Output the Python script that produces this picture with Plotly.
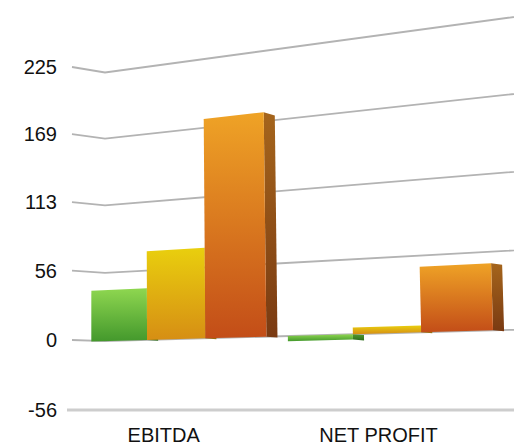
import plotly.graph_objects as go

# ---- data -------------------------------------------------------------
categories = ["EBITDA", "NET PROFIT"]
series_green = [42, -4]
series_yellow = [72, 5]
series_orange = [176, 48]
tick_values = [-56.25, 0, 56.25, 112.5, 168.75, 225]
tick_labels = ["-56", "0", "56", "113", "169", "225"]

# ---- scene geometry (chart units) -------------------------------------
PERSP_X = 0.02227      # wall comes towards the viewer to the right
PERSP_Y = 9.1e-5       # wall leans away towards the top
EYE_LEVEL = -56.25     # value lying on the horizon
WALL_SCALE = 0.984     # vertical scale of the back-wall corner vs. the axis edge
SIDE_FRONT = -0.596    # front edge of the side wall
BAR_W = 1.0
GROUP_PITCH = 3.34
FIRST_BAR = -0.25
LABEL_SCALE = 1.019    # category labels sit on the front edge of the floor
LABEL_SHIFT = 0.244
DEPTH_DX = 0.2         # bar depth, sideways
DEPTH_F = 0.011        # bar depth, pull towards the horizon
X_RANGE = [-0.686, 7.383]
Y_RANGE = [-61.85, 271.54]

GREENS = ("#43982c", "#8fd750", "#2f6e1c", "#4f9a30")
YELLOWS = ("#d68e14", "#e9cf0e", "#9a6a10", "#b88a14")
ORANGES = ("#c34d18", "#efa326", "#7a3a12", "#a5651c")


def w(u, v):
    return 1 - PERSP_X * u + PERSP_Y * (v - EYE_LEVEL)


def proj_x(u, v=0.0):
    return u / w(u, v)


def proj_y(u, v):
    return EYE_LEVEL + WALL_SCALE * (v - EYE_LEVEL) / w(u, v)


def edge_y(v, scale=1.0):
    d = v - EYE_LEVEL
    return EYE_LEVEL + scale * d / (1 + PERSP_Y * d)


def back_y(y):
    return EYE_LEVEL + (y - EYE_LEVEL) * (1 - DEPTH_F)


fig = go.Figure()

# ---- gridlines: side wall + back wall ---------------------------------
for t in tick_values:
    if t == EYE_LEVEL:
        fig.add_trace(go.Scatter(
            x=[X_RANGE[0], X_RANGE[1]], y=[t, t], mode="lines",
            line=dict(color="#cdcdcd", width=3), hoverinfo="skip", showlegend=False))
        continue
    u_end = 7.0
    xs = [SIDE_FRONT, proj_x(0, t), proj_x(u_end, t)]
    ys = [edge_y(t), proj_y(0, t), proj_y(u_end, t)]
    fig.add_trace(go.Scatter(
        x=xs, y=ys, mode="lines",
        line=dict(color="#b3b3b3", width=1.8), hoverinfo="skip", showlegend=False))


# ---- bars ---------------------------------------------------------------
def add_bar(u0, value, colors):
    bottom, top, side_bottom, side_top = colors
    u1 = u0 + BAR_W
    lo, hi = min(0, value), max(0, value)
    corners = [(u0, lo), (u1, lo), (u1, hi), (u0, hi), (u0, lo)]
    fx = [proj_x(u, v) for u, v in corners]
    fy = [proj_y(u, v) for u, v in corners]
    # side face
    xr_hi, xr_lo = proj_x(u1, hi), proj_x(u1, lo)
    y_hi, y_lo = proj_y(u1, hi), proj_y(u1, lo)
    sx = [xr_hi, xr_hi + DEPTH_DX, xr_lo + DEPTH_DX, xr_lo, xr_hi]
    sy = [y_hi, back_y(y_hi), back_y(y_lo), y_lo, y_hi]
    fig.add_trace(go.Scatter(
        x=sx, y=sy, mode="lines", fill="toself", line=dict(width=0),
        fillgradient=dict(type="vertical",
                          colorscale=[[0, side_bottom], [1, side_top]]),
        hoverinfo="skip", showlegend=False))
    # front face
    fig.add_trace(go.Scatter(
        x=fx, y=fy, mode="lines", fill="toself", line=dict(width=0),
        fillgradient=dict(type="vertical", colorscale=[[0, bottom], [1, top]]),
        hoverinfo="skip", showlegend=False))


for i, _ in enumerate(categories):
    start = FIRST_BAR + i * GROUP_PITCH
    add_bar(start, series_green[i], GREENS)
    add_bar(start + BAR_W, series_yellow[i], YELLOWS)
    add_bar(start + 2 * BAR_W, series_orange[i], ORANGES)

label_pos = [LABEL_SCALE * proj_x(FIRST_BAR + i * GROUP_PITCH + 1.5 * BAR_W) - LABEL_SHIFT
             for i in range(len(categories))]

font = dict(family="Liberation Sans, Arial, sans-serif", size=20, color="#111111")
fig.update_layout(
    width=514, height=445,
    margin=dict(l=67, r=0, t=0, b=28),
    paper_bgcolor="white", plot_bgcolor="white",
    font=font,
    xaxis=dict(range=X_RANGE, showgrid=False, zeroline=False, showline=False,
               tickmode="array", tickvals=label_pos, ticktext=categories,
               ticks="", ticklabelstandoff=4, fixedrange=True, automargin=False),
    yaxis=dict(range=Y_RANGE, showgrid=False, zeroline=False, showline=False,
               tickmode="array", tickvals=[edge_y(t) for t in tick_values],
               ticktext=tick_labels,
               ticks="", ticklabelstandoff=9, fixedrange=True, automargin=False),
)

fig.write_html("out.html")
